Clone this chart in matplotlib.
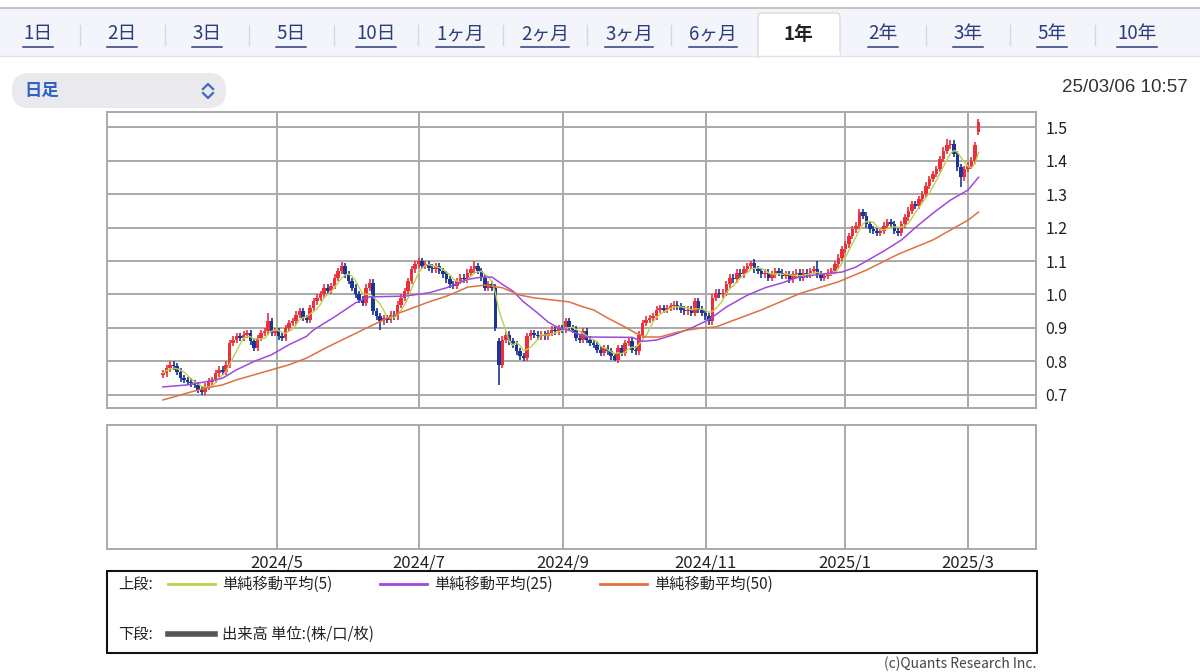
import numpy as np
import pandas as pd
import matplotlib
matplotlib.use("Agg")
import matplotlib.pyplot as plt
from matplotlib.patches import FancyBboxPatch, Rectangle

plt.rcParams['font.family'] = ['Noto Sans CJK JP', 'DejaVu Sans']

# daily closes (mid-March 2024 .. 2025/03/06)
closes = [
    0.765, 0.78, 0.79, 0.785, 0.77, 0.75, 0.745, 0.74, 0.735, 0.73,
    0.715, 0.71, 0.725, 0.74, 0.745, 0.765, 0.775, 0.77, 0.79, 0.855,
    0.865, 0.875, 0.87, 0.88, 0.885, 0.86, 0.84, 0.87, 0.885, 0.89,
    0.92, 0.885, 0.89, 0.875, 0.87, 0.9, 0.915, 0.92, 0.94, 0.95,
    0.93, 0.925, 0.96, 0.98, 0.99, 1.0, 1.02, 1.01, 1.025, 1.05,
    1.07, 1.085, 1.06, 1.04, 1.02, 1.0, 0.985, 0.975, 1.02, 1.035,
    0.95, 0.935, 0.92, 0.93, 0.925, 0.94, 0.935, 0.97, 0.99, 1.01,
    1.04, 1.075, 1.09, 1.1, 1.085, 1.09, 1.08, 1.075, 1.085, 1.07,
    1.06, 1.045, 1.03, 1.025, 1.04, 1.05, 1.045, 1.065, 1.075, 1.085,
    1.07, 1.05, 1.02, 1.03, 1.02, 0.90, 0.79, 0.865, 0.88, 0.86,
    0.85, 0.83, 0.815, 0.81, 0.875, 0.885, 0.88, 0.875, 0.88, 0.875,
    0.885, 0.895, 0.89, 0.9, 0.895, 0.92, 0.9, 0.895, 0.87, 0.865,
    0.89, 0.865, 0.855, 0.85, 0.835, 0.825, 0.84, 0.83, 0.815, 0.805,
    0.84, 0.825, 0.855, 0.86, 0.835, 0.83, 0.88, 0.915, 0.925, 0.93,
    0.935, 0.955, 0.96, 0.955, 0.96, 0.965, 0.97, 0.965, 0.955, 0.95,
    0.955, 0.945, 0.98, 0.955, 0.945, 0.935, 0.92, 0.99, 1.005, 1.0,
    1.005, 1.03, 1.05, 1.045, 1.065, 1.06, 1.075, 1.085, 1.095, 1.075,
    1.07, 1.06, 1.065, 1.05, 1.06, 1.07, 1.065, 1.055, 1.06, 1.045,
    1.06, 1.065, 1.05, 1.065, 1.06, 1.07, 1.075, 1.06, 1.05, 1.055,
    1.065, 1.07, 1.09, 1.11, 1.135, 1.15, 1.175, 1.195, 1.205, 1.245,
    1.235, 1.21, 1.195, 1.19, 1.185, 1.19, 1.205, 1.215, 1.21, 1.19,
    1.185, 1.21, 1.23, 1.25, 1.27, 1.265, 1.285, 1.3, 1.325, 1.345,
    1.36, 1.375, 1.405, 1.43, 1.445, 1.45, 1.42, 1.38, 1.35, 1.375,
    1.385, 1.4, 1.445, 1.515,
]
# opens that don't equal the previous close (gaps)
open_gaps = {0: 0.76, 96: 0.86, 233: 1.485}
# long shadows
high_wicks = {30: 0.945, 51: 1.097, 89: 1.10, 168: 1.10, 187: 1.10,
              199: 1.255, 224: 1.465, 233: 1.525}
low_wicks = {11: 0.70, 62: 0.895, 96: 0.73, 129: 0.80, 228: 1.32}

# moving averages (day index, value)
ma25_idx = [0, 7, 12, 17, 21, 26, 31, 36, 41, 43, 49, 55, 59, 69, 76, 81, 87,
            91, 94, 97, 100, 103, 107, 110, 113, 116, 121, 134, 137, 141, 146,
            151, 156, 161, 167, 172, 177, 181, 186, 191, 194, 198, 201, 206,
            211, 215, 220, 225, 230, 233]
ma25_val = [0.724, 0.73, 0.739, 0.75, 0.775, 0.80, 0.82, 0.85, 0.875, 0.894,
            0.933, 0.975, 0.993, 0.995, 1.005, 1.02, 1.045, 1.052, 1.052, 1.03,
            1.01, 0.978, 0.945, 0.918, 0.90, 0.893, 0.873, 0.872, 0.86, 0.864,
            0.88, 0.90, 0.925, 0.963, 0.998, 1.02, 1.035, 1.05, 1.058, 1.064,
            1.067, 1.082, 1.10, 1.13, 1.163, 1.20, 1.243, 1.282, 1.312, 1.35]
ma50_idx = [0, 7, 12, 17, 21, 26, 31, 36, 41, 47, 57, 66, 76, 81, 84, 87, 92,
            97, 102, 106, 111, 116, 120, 123, 127, 132, 135, 138, 142, 146, 150,
            154, 158, 161, 171, 182, 193, 201, 210, 220, 230, 233]
ma50_val = [0.685, 0.706, 0.72, 0.73, 0.745, 0.76, 0.775, 0.79, 0.81, 0.843,
            0.894, 0.939, 0.978, 0.995, 1.008, 1.022, 1.028, 1.02, 0.998, 0.99,
            0.984, 0.978, 0.963, 0.954, 0.93, 0.903, 0.885, 0.873, 0.873, 0.885,
            0.894, 0.90, 0.903, 0.915, 0.954, 1.003, 1.038, 1.073, 1.12, 1.163,
            1.222, 1.246]

month_pos = [32.6, 73.1, 114.3, 155.1, 194.9, 230.0]
month_labels = ["2024/5", "2024/7", "2024/9", "2024/11", "2025/1", "2025/3"]
y_ticks = [0.7, 0.8, 0.9, 1.0, 1.1, 1.2, 1.3, 1.4, 1.5]

tabs = ["1日", "2日", "3日", "5日", "10日", "1ヶ月", "2ヶ月", "3ヶ月", "6ヶ月",
        "1年", "2年", "3年", "5年", "10年"]
tab_x = [38, 122, 207, 291, 376, 460, 545, 629, 713, 798, 883, 968, 1052, 1137]
selected = "1年"

RED = "#ec2f3a"
BLUE = "#1a3596"
GRID = "#a9a9a9"
NAVY = "#2b3d7c"
WICK = 0.01

W, H = 1200, 672
fig = plt.figure(figsize=(W / 100, H / 100), dpi=100)

def rect(l, t, r, b):
    return [l / W, 1 - b / H, (r - l) / W, (b - t) / H]

bg = fig.add_axes([0, 0, 1, 1], zorder=0)
bg.set_xlim(0, W)
bg.set_ylim(H, 0)
bg.axis("off")

# tab bar
bg.add_patch(Rectangle((0, 8), W, 48, color="#f3f5fa", lw=0))
bg.plot([0, W], [7.5, 7.5], color="#c4c4c4", lw=1.5)
bg.plot([0, W], [56, 56], color="#dfe2ea", lw=1)
bg.add_patch(FancyBboxPatch((758, 13), 82, 46, boxstyle="round,pad=0,rounding_size=4",
                            fc="white", ec="#dcdcdc", lw=1))
bg.add_patch(Rectangle((758.5, 52), 81, 8, color="white", lw=0))
for i in range(len(tabs) - 1):
    sx = (tab_x[i] + tab_x[i + 1]) / 2
    if selected in (tabs[i], tabs[i + 1]):
        continue
    bg.plot([sx, sx], [25, 45], color="#d4d7de", lw=1)
tab_texts = []
for t, x in zip(tabs, tab_x):
    if t == selected:
        bg.text(x, 34, t, ha="center", va="center", fontsize=13.5,
                color="#222222", fontweight="bold")
    else:
        tab_texts.append(bg.text(x, 34, t, ha="center", va="center",
                                 fontsize=13.5, color=NAVY))

# dropdown
bg.add_patch(FancyBboxPatch((12, 73), 214, 35, boxstyle="round,pad=0,rounding_size=17",
                            fc="#e9e9ee", ec="none"))
bg.text(24, 91, "日足", ha="left", va="center", fontsize=12.5, color="#2f62c4",
        fontweight="bold")
bg.plot([203, 208, 213], [89, 84, 89], color="#3a6ac8", lw=1.6)
bg.plot([203, 208, 213], [93, 98, 93], color="#3a6ac8", lw=1.6)

bg.text(1188, 87, "25/03/06 10:57", ha="right", va="center", fontsize=13.5,
        color="#333333", family=["Liberation Sans", "DejaVu Sans"])

# price panel
ax = fig.add_axes(rect(107, 112, 1036, 408), zorder=2)
c = np.array(closes)
o = np.r_[c[0], c[:-1]]
for k, v in open_gaps.items():
    o[k] = v
hi = np.maximum(o, c) + WICK
lo = np.minimum(o, c) - WICK
for k, v in high_wicks.items():
    hi[k] = v
for k, v in low_wicks.items():
    lo[k] = v
idx = np.arange(len(c))
up = c >= o
dn = ~up
ax.vlines(idx[up], lo[up], hi[up], color=RED, lw=1.2, zorder=3)
ax.vlines(idx[dn], lo[dn], hi[dn], color=BLUE, lw=1.2, zorder=3)
ax.bar(idx[up], np.maximum(c - o, 0.004)[up], bottom=o[up], width=0.9,
       color=RED, lw=0, zorder=3)
ax.bar(idx[dn], np.maximum(o - c, 0.004)[dn], bottom=c[dn], width=0.9,
       color=BLUE, lw=0, zorder=3)

ma5 = pd.Series(c).rolling(5, min_periods=1).mean()
ax.plot(idx, ma5, color="#bcd04a", lw=1.0, zorder=4)
ax.plot(ma25_idx, ma25_val, color="#a048dc", lw=1.1, zorder=4)
ax.plot(ma50_idx, ma50_val, color="#e0703e", lw=1.1, zorder=4)

xl = ((107 - 163) / 3.5, (1036 - 163) / 3.5)
ax.set_xlim(*xl)
ax.set_ylim(0.661, 1.545)
ax.set_yticks(y_ticks)
ax.set_yticklabels([f"{v:.1f}" for v in y_ticks])
ax.yaxis.tick_right()
ax.tick_params(axis="y", length=0, pad=7, labelsize=11.5, labelcolor="#222222")
ax.set_xticks(month_pos)
ax.tick_params(axis="x", length=0, labelbottom=False)
ax.grid(True, color=GRID, lw=1.4)
ax.set_axisbelow(True)
for s in ax.spines.values():
    s.set_color(GRID)
    s.set_linewidth(1.4)

# volume panel (empty)
vax = fig.add_axes(rect(107, 425, 1036, 549), zorder=2)
vax.set_xlim(*xl)
vax.set_yticks([])
vax.set_xticks(month_pos)
vax.set_xticklabels(month_labels)
vax.tick_params(axis="x", length=0, pad=4, labelsize=12, labelcolor="#222222")
vax.grid(True, axis="x", color=GRID, lw=1.4)
for s in vax.spines.values():
    s.set_color(GRID)
    s.set_linewidth(1.4)

# legend box
bg.add_patch(Rectangle((107, 571), 930, 82, fc="none", ec="#111111", lw=1.5))
bg.text(118, 584, "上段:", ha="left", va="center", fontsize=11, color="#222222")
legend_items = [("単純移動平均(5)", "#bcd04a", 168),
                ("単純移動平均(25)", "#a048dc", 380),
                ("単純移動平均(50)", "#e0703e", 600)]
for label, col, lx in legend_items:
    bg.plot([lx, lx + 47], [584, 584], color=col, lw=2)
    bg.text(lx + 54, 584, label, ha="left", va="center", fontsize=11, color="#222222")
bg.text(118, 634, "下段:", ha="left", va="center", fontsize=11, color="#222222")
bg.plot([168, 215], [634, 634], color="#555555", lw=4)
bg.text(222, 634, "出来高 単位:(株/口/枚)", ha="left", va="center", fontsize=11,
        color="#222222")

bg.text(884, 671, "(c)Quants Research Inc.", ha="left", va="bottom", fontsize=10,
        color="#444444")

# underline tab links
fig.canvas.draw()
inv = bg.transData.inverted()
for t in tab_texts:
    bb = t.get_window_extent()
    (x0, _), (x1, _) = inv.transform([(bb.x0, bb.y0), (bb.x1, bb.y1)])
    bg.plot([x0, x1], [47, 47], color=NAVY, lw=1.1)

fig.savefig("out.png", dpi=100)
